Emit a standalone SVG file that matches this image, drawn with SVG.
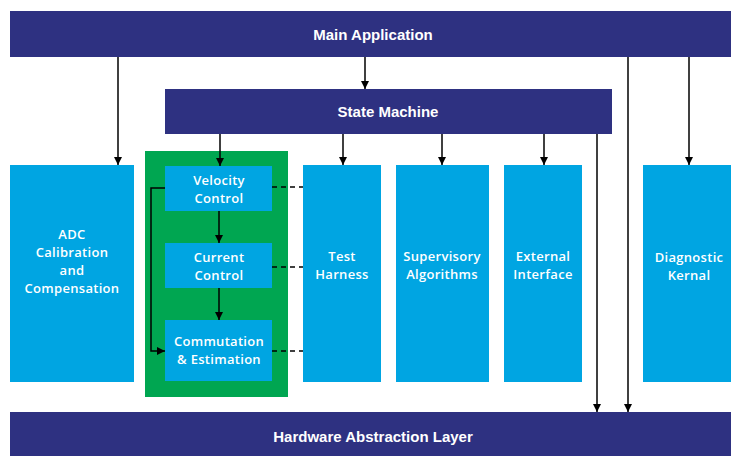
<svg xmlns="http://www.w3.org/2000/svg" width="731" height="456" viewBox="0 0 731 456">
<style>
.navy{fill:#2E3181}
.blue{fill:#00A5E2}
.green{fill:#00A651}
.ht{font-family:"Liberation Sans",Arial,sans-serif;font-weight:bold;font-size:15px;fill:#fff;text-anchor:middle}
.bt{font-family:"Open Sans","Noto Sans",sans-serif;font-weight:600;font-size:13px;letter-spacing:0.3px;fill:#fff;text-anchor:middle}
.ln{stroke:#000;stroke-width:1.5;fill:none}
.dash{stroke:#000;stroke-width:1.5;fill:none;stroke-dasharray:5,4}
</style>
<defs>
<marker id="ah" viewBox="0 0 10 10" refX="10" refY="5" markerWidth="8" markerHeight="8" markerUnits="userSpaceOnUse" orient="auto">
<path d="M0,0 L10,5 L0,10 z" fill="#000"/>
</marker>
</defs>
<rect width="731" height="456" fill="#fff"/>
<g id="main-application">
<rect class="navy" x="10" y="11" width="721" height="46"/>
<text class="ht" x="373" y="40">Main Application</text>
</g>
<g id="state-machine">
<rect class="navy" x="165" y="89" width="447" height="45"/>
<text class="ht" x="388" y="117">State Machine</text>
</g>
<g id="adc">
<rect class="blue" x="10" y="165" width="124" height="217"/>
<text class="bt" x="72" y="239">ADC</text>
<text class="bt" x="72" y="257">Calibration</text>
<text class="bt" x="72" y="275">and</text>
<text class="bt" x="72" y="293">Compensation</text>
</g>
<g id="motor-control">
<rect class="green" x="145" y="151" width="143" height="246"/>
</g>
<g id="velocity-control">
<rect class="blue" x="165" y="166" width="107" height="45"/>
<text class="bt" x="219" y="185">Velocity</text>
<text class="bt" x="219" y="203">Control</text>
</g>
<g id="current-control">
<rect class="blue" x="165" y="243" width="107" height="45"/>
<text class="bt" x="219" y="262">Current</text>
<text class="bt" x="219" y="280">Control</text>
</g>
<g id="commutation">
<rect class="blue" x="165" y="320" width="107" height="61"/>
<text class="bt" x="219" y="346">Commutation</text>
<text class="bt" x="219" y="364">&amp; Estimation</text>
</g>
<g id="test-harness">
<rect class="blue" x="303" y="165" width="78" height="217"/>
<text class="bt" x="342" y="261">Test</text>
<text class="bt" x="342" y="279">Harness</text>
</g>
<g id="supervisory">
<rect class="blue" x="396" y="165" width="93" height="217"/>
<text class="bt" x="442" y="261">Supervisory</text>
<text class="bt" x="442" y="279">Algorithms</text>
</g>
<g id="external">
<rect class="blue" x="504" y="165" width="78" height="217"/>
<text class="bt" x="543" y="261">External</text>
<text class="bt" x="543" y="279">Interface</text>
</g>
<g id="diagnostic">
<rect class="blue" x="643" y="165" width="88" height="217"/>
<text class="bt" x="689" y="262">Diagnostic</text>
<text class="bt" x="689" y="280">Kernal</text>
</g>
<g id="hal">
<rect class="navy" x="10" y="412" width="721" height="44"/>
<text class="ht" x="373" y="442">Hardware Abstraction Layer</text>
</g>
<g id="connectors">
<line class="ln" x1="365" y1="57" x2="365" y2="89" marker-end="url(#ah)"/>
<line class="ln" x1="118" y1="57" x2="118" y2="165" marker-end="url(#ah)"/>
<line class="ln" x1="628" y1="57" x2="628" y2="412" marker-end="url(#ah)"/>
<line class="ln" x1="689" y1="57" x2="689" y2="165" marker-end="url(#ah)"/>
<line class="ln" x1="220" y1="134" x2="220" y2="166" marker-end="url(#ah)"/>
<line class="ln" x1="343" y1="134" x2="343" y2="165" marker-end="url(#ah)"/>
<line class="ln" x1="442" y1="134" x2="442" y2="165" marker-end="url(#ah)"/>
<line class="ln" x1="544" y1="134" x2="544" y2="165" marker-end="url(#ah)"/>
<line class="ln" x1="597" y1="134" x2="597" y2="412" marker-end="url(#ah)"/>
<line class="ln" x1="219" y1="211" x2="219" y2="243" marker-end="url(#ah)"/>
<line class="ln" x1="219" y1="288" x2="219" y2="320" marker-end="url(#ah)"/>
<polyline class="ln" points="165,188 151,188 151,351 165,351" marker-end="url(#ah)"/>
<line class="dash" x1="272" y1="187" x2="303" y2="187"/>
<line class="dash" x1="272" y1="267" x2="303" y2="267"/>
<line class="dash" x1="272" y1="351" x2="303" y2="351"/>
</g>
</svg>
